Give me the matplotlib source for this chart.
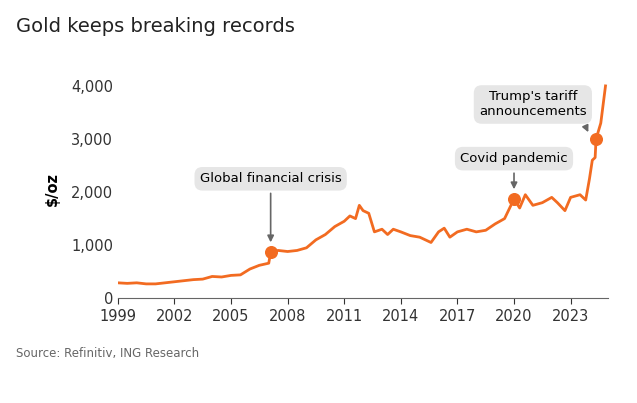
import matplotlib.pyplot as plt
import numpy as np

years = [1999, 1999.5, 2000, 2000.5, 2001, 2001.5, 2002, 2002.5, 2003, 2003.5, 2004, 2004.5,
         2005, 2005.5, 2006, 2006.5, 2007, 2007.1, 2007.5, 2008, 2008.5, 2009, 2009.5, 2010,
         2010.5, 2011, 2011.3, 2011.6, 2011.8, 2012, 2012.3, 2012.6, 2013, 2013.3, 2013.6,
         2014, 2014.5, 2015, 2015.3, 2015.6, 2016, 2016.3, 2016.6, 2017, 2017.5, 2018, 2018.5,
         2019, 2019.5, 2020, 2020.3, 2020.6, 2021, 2021.5, 2022, 2022.3, 2022.7, 2023, 2023.5,
         2023.8, 2024.0, 2024.15, 2024.3, 2024.35, 2024.6, 2024.85]
price = [290, 280, 290, 270, 270, 290, 310, 330, 350, 360, 410, 400, 430, 440, 550, 620, 660, 870,
         900, 880, 900, 950, 1100, 1200, 1350, 1450, 1550, 1500, 1750, 1650, 1600, 1250, 1300, 1200,
         1300, 1250, 1180, 1150, 1100, 1050, 1250, 1320, 1150, 1250, 1300, 1250, 1280, 1400, 1500,
         1870, 1700, 1950, 1750, 1800, 1900, 1800, 1650, 1900, 1950, 1850, 2250, 2600, 2650, 3000,
         3300, 4000]
points = [(2007.1, 870), (2020.0, 1870), (2024.35, 3000)]
xticks = [1999, 2002, 2005, 2008, 2011, 2014, 2017, 2020, 2023]
yticks = [0, 1000, 2000, 3000, 4000]

orange = '#F26B21'
fig = plt.figure(figsize=(6.37, 4.03), dpi=100)
ax = fig.add_axes([0.185, 0.26, 0.77, 0.54])
ax.plot(years, price, color=orange, lw=2)
ax.scatter([p[0] for p in points], [p[1] for p in points], s=70, color=orange, zorder=3)
ax.set_xlim(1999, 2025)
ax.set_ylim(0, 4100)
ax.set_xticks(xticks)
ax.set_yticks(yticks)
ax.set_yticklabels([f'{v:,}' for v in yticks])
for s in ['top', 'right', 'left']:
    ax.spines[s].set_visible(False)
ax.spines['bottom'].set_color('#666666')
ax.tick_params(axis='y', length=0, labelsize=10.5, colors='#333333')
ax.tick_params(axis='x', length=4, labelsize=10.5, colors='#333333')
ax.set_ylabel('$/oz', fontsize=10.5, fontweight='bold', labelpad=8)

box = dict(boxstyle='round,pad=0.4,rounding_size=0.6', fc='#E6E6E6', ec='none')
arr = dict(arrowstyle='-|>', color='#666666', lw=1.2)
ax.annotate('Global financial crisis', xy=(2007.1, 1000), xytext=(2007.1, 2250),
            ha='center', va='center', fontsize=9.5, bbox=box, arrowprops=arr)
ax.annotate('Covid pandemic', xy=(2020.0, 2000), xytext=(2020.0, 2630),
            ha='center', va='center', fontsize=9.5, bbox=box, arrowprops=arr)
ax.annotate("Trump's tariff\nannouncements", xy=(2024.0, 3080), xytext=(2021.0, 3650),
            ha='center', va='center', fontsize=9.5, bbox=box,
            arrowprops=dict(arrowstyle='-|>', color='#666666', lw=1.2,
                            relpos=(0.95, 0.05)))

fig.text(0.025, 0.92, 'Gold keeps breaking records', fontsize=14, color='#222222')
fig.text(0.025, 0.115, 'Source: Refinitiv, ING Research', fontsize=8.5, color='#666666')
fig.savefig('out.png', dpi=100)
